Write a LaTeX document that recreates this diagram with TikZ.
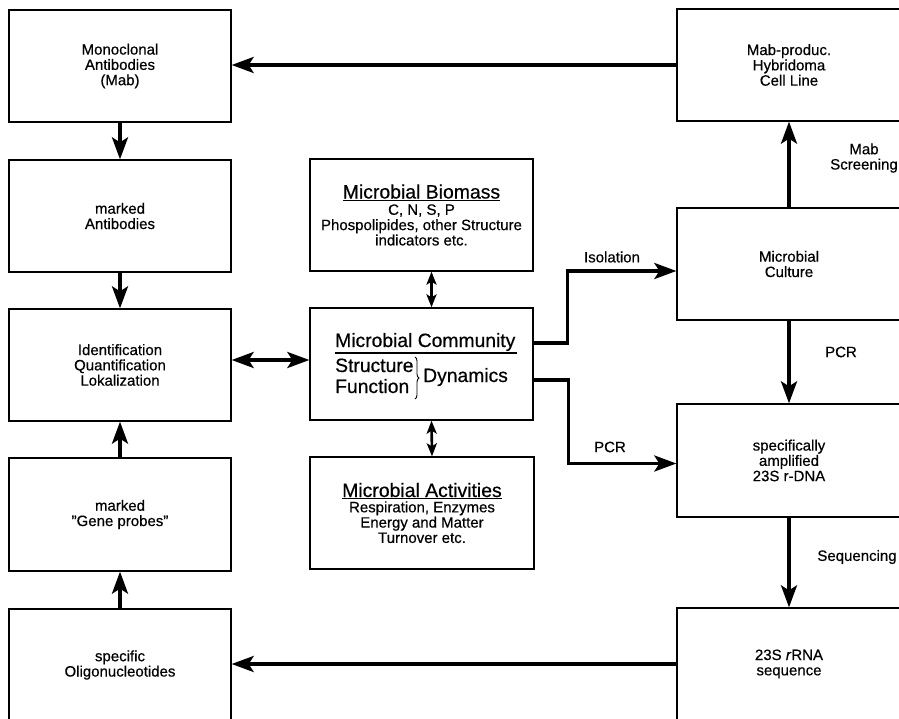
\documentclass[tikz,border=0pt]{standalone}
\usepackage{fontspec}
\setmainfont{Liberation Sans}[FakeBold=0.5]
\usetikzlibrary{arrows.meta,decorations.pathreplacing}
\begin{document}
\begin{tikzpicture}[x=1pt,y=-1pt,
  box/.style={draw, line width=1.3pt, minimum width=222pt, minimum height=112pt,
    inner sep=0pt, align=center, font=\fontsize{15}{15.3}\selectfont},
  lbl/.style={inner sep=0pt, align=center, font=\fontsize{15}{15.3}\selectfont},
  big/.style={inner sep=0pt, anchor=base west, font=\fontsize{19.3}{19.3}\selectfont},
  tip/.style={Stealth[length=22pt,width=16pt,inset=5pt]},
  stip/.style={Stealth[length=13pt,width=10pt,inset=3pt]},
  arr/.style={line width=3.4pt, -{Stealth[length=22pt,width=16pt,inset=5pt]}},
  dbl/.style={line width=3.4pt, {Stealth[length=22pt,width=16pt,inset=5pt]}-{Stealth[length=22pt,width=16pt,inset=5pt]}},
  sdbl/.style={line width=2.6pt, {Stealth[length=13pt,width=10pt,inset=3pt]}-{Stealth[length=13pt,width=10pt,inset=3pt]}}]
\useasboundingbox (0,0) rectangle (899,719);
\clip (0,0) rectangle (899,719);
% left column
\node[box] (mono) at (120,66) {Monoclonal\\Antibodies\\(Mab)};
\node[box] (markab) at (120,216) {marked\\Antibodies};
\node[box] (ident) at (120,365) {Identification\\Quantification\\Lokalization};
\node[box, minimum height=113pt] (gene) at (120,514.5) {marked\\"Gene probes"};
\node[box] (oligo) at (120,665) {specific\\Oligonucleotides};
% centre column
\node[box, minimum width=223pt] (bio) at (421.5,215)
  {{\fontsize{19.4}{19.4}\selectfont\underline{Microbial Biomass}}\\[1pt]C, N, S, P\\Phospolipides, other Structure\\indicators etc.};
\node[box, minimum width=223pt] (comm) at (421.5,364) {};
\node[box, minimum width=224pt] (act) at (422,513)
  {{\fontsize{19.4}{19.4}\selectfont\underline{Microbial Activities}}\\[0pt]Respiration, Enzymes\\Energy and Matter\\Turnover etc.};
\node[big] (mc) at (335,347) {Microbial Community};
\draw[line width=1.1pt] (335,353) -- (517,353);
\node[big] (st) at (335,372) {Structure};
\node[big] (fu) at (335,393) {Function};
\draw[decorate, decoration={brace, amplitude=4pt}, line width=0.9pt] (415,357) -- (415,399);
\node[big] (dy) at (423,382) {Dynamics};
% right column
\node[box, minimum width=224pt] (mab) at (789,65) {Mab-produc.\\Hybridoma\\Cell Line};
\node[box, minimum width=224pt] (culture) at (789,264) {Microbial\\Culture};
\node[box, minimum width=224pt, minimum height=113pt] (ampl) at (789,460.5) {specifically\\amplified\\23S r-DNA};
\node[box, minimum width=224pt] (rrna) at (789,664) {23S \textit{r}RNA\\sequence};
% connectors
\draw[arr] (mab.west) -- (mab.west -| mono.east);
\draw[arr] (mono.south) -- (markab.north);
\draw[arr] (markab.south) -- (ident.north);
\draw[arr] (gene.north) -- (ident.south);
\draw[arr] (oligo.north) -- (gene.south);
\draw[dbl] ([yshift=5pt]ident.east) -- ([yshift=5pt]ident.east -| comm.west);
\draw[sdbl] ([xshift=10pt]bio.south) -- ([xshift=10pt]comm.north);
\draw[sdbl] ([xshift=10pt]comm.south) -- ([xshift=10pt]act.north);
\draw[arr] ([yshift=21pt]comm.east) -- ++(34,0) |- ([yshift=-7pt]culture.west);
\draw[arr] ([yshift=-16pt]comm.east) -- ++(35,0) |- ([yshift=-3pt]ampl.west);
\draw[arr] (culture.north) -- (mab.south);
\draw[arr] (culture.south) -- (ampl.north);
\draw[arr] (ampl.south) -- (rrna.north);
\draw[arr] (rrna.west) -- (rrna.west -| oligo.east);
% labels
\node[lbl] (isol) at (612,257) {Isolation};
\node[lbl] (pcra) at (610,447) {PCR};
\node[lbl] (scr) at (864,158) {Mab\\Screening};
\node[lbl] (pcrb) at (841,352) {PCR};
\node[lbl] (seq) at (857,557) {Sequencing};
\end{tikzpicture}
\end{document}
